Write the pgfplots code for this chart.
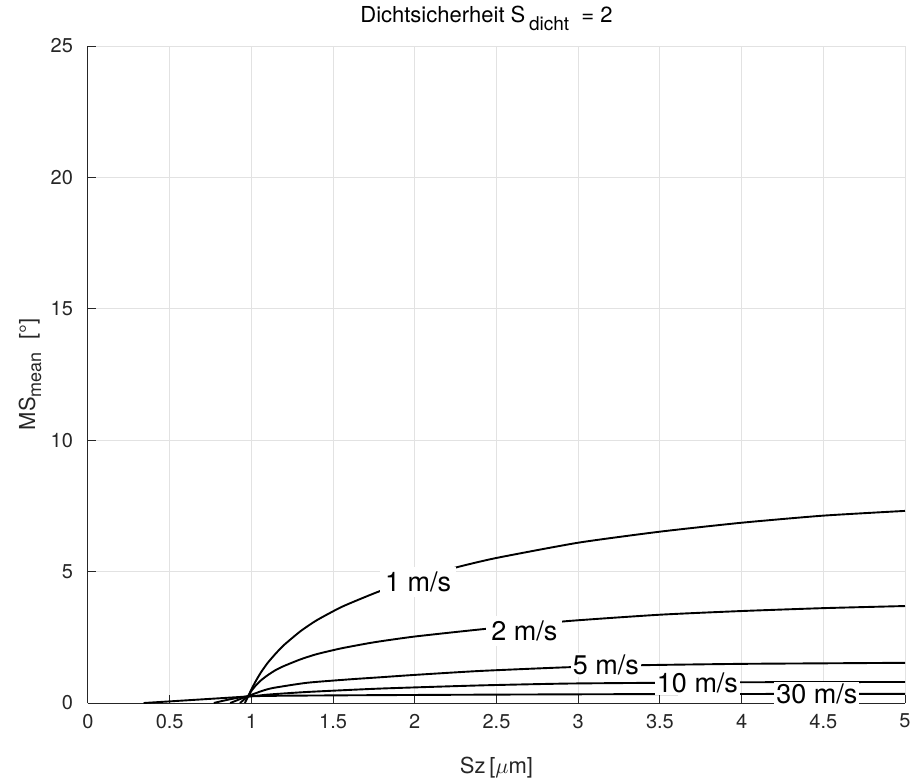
\documentclass[border=0pt]{standalone}
\usepackage{pgfplots}
\pgfplotsset{compat=1.18}
\usepackage{fontspec}
\setmainfont{TeX Gyre Heros}
\definecolor{axgray}{HTML}{262626}
\definecolor{gridgray}{HTML}{E2E2E2}
\begin{document}
\begin{tikzpicture}
\begin{axis}[
  at={(0,0)}, anchor=south west,
  width=408.5pt, height=328.5pt, scale only axis,
  xmin=0, xmax=5, ymin=0, ymax=25,
  axis x line*=bottom, axis y line*=left,
  axis line style={-, draw=axgray, line width=0.5pt},
  xtick={0,0.5,1,1.5,2,2.5,3,3.5,4,4.5,5},
  ytick={0,5,10,15,20,25},
  tick align=inside,
  major tick length=4pt,
  tick style={draw=axgray, line width=0.5pt},
  grid=major,
  grid style={draw=gridgray, line width=0.5pt},
  /pgf/number format/assume math mode=true,
  ticklabel style={font=\fontsize{10}{12}\selectfont, text=axgray},
  xticklabel style={yshift=-2pt},
  yticklabel style={xshift=-4pt},
  xlabel={Sz\,[$\mu$m]},
  ylabel={MS\raisebox{-3pt}{\fontsize{9}{10}\selectfont mean}\ \ [°]},
  every axis x label/.style={at={(axis description cs:0.5,-0.099)}, anchor=center, font=\fontsize{11}{13}\selectfont, text=axgray},
  every axis y label/.style={at={(axis description cs:-0.071,0.5)}, anchor=center, rotate=90, font=\fontsize{11}{13}\selectfont, text=axgray},
  title={Dichtsicherheit S\,\raisebox{-4pt}{\fontsize{9.5}{11}\selectfont dicht}\ \ =\ 2},
  every axis title/.style={at={(axis description cs:0.5,1.0426)}, anchor=center, xshift=-5pt, font=\fontsize{11}{13}\selectfont, text=black},
]
% 1 m/s
\addplot[black, line width=0.95pt, smooth, tension=0.35] coordinates {
 (0.96,0) (0.98,0.25) (1.0,0.52) (1.03,0.87) (1.06,1.18) (1.1,1.53) (1.15,1.89) (1.2,2.21) (1.3,2.73) (1.4,3.15) (1.55,3.65) (1.71,4.07) (1.85,4.41) (2.0,4.71) (2.26,5.17) (2.5,5.52) (3.0,6.1) (3.5,6.52) (4.0,6.86) (4.5,7.13) (5.0,7.31)};
% 2 m/s
\addplot[black, line width=0.95pt, smooth, tension=0.35] coordinates {
 (0.93,0) (0.98,0.27) (1.0,0.46) (1.03,0.69) (1.06,0.87) (1.1,1.06) (1.15,1.26) (1.2,1.41) (1.3,1.66) (1.4,1.86) (1.55,2.08) (1.75,2.31) (2.0,2.53) (2.4,2.8) (2.94,3.12) (3.5,3.36) (4.0,3.5) (4.5,3.61) (5.0,3.69)};
% 5 m/s
\addplot[black, line width=0.95pt, smooth, tension=0.35] coordinates {
 (0.87,0) (0.98,0.27) (1.03,0.38) (1.06,0.45) (1.13,0.57) (1.34,0.77) (1.6,0.9) (1.79,0.98) (2.0,1.07) (2.4,1.22) (2.93,1.36) (3.4,1.44) (4.0,1.49) (4.5,1.51) (5.0,1.53)};
% 10 m/s
\addplot[black, line width=0.95pt, smooth, tension=0.35] coordinates {
 (0.34,0) (0.98,0.25) (1.1,0.32) (1.34,0.42) (1.79,0.55) (2.4,0.67) (2.93,0.74) (3.5,0.77) (4.0,0.79) (5.0,0.80)};
% 30 m/s
\addplot[black, line width=0.95pt, smooth, tension=0.35] coordinates {
 (0.77,0) (0.98,0.25) (1.5,0.29) (2.5,0.32) (3.5,0.34) (5.0,0.35)};
% contour labels
\node[fill=white, inner sep=2.5pt, font=\fontsize{13.5}{15}\selectfont] at (axis cs:2.02,4.6) {1 m/s};
\node[fill=white, inner sep=2.5pt, font=\fontsize{13.5}{15}\selectfont] at (axis cs:2.67,2.75) {2 m/s};
\node[fill=white, inner sep=1pt, font=\fontsize{13.5}{15}\selectfont] at (axis cs:3.17,1.45) {5 m/s};
\node[fill=white, inner sep=1pt, font=\fontsize{13.5}{15}\selectfont] at (axis cs:3.73,0.78) {10 m/s};
\node[fill=white, inner sep=1pt, font=\fontsize{13.5}{15}\selectfont] at (axis cs:4.46,0.34) {30 m/s};
\end{axis}
\pgfresetboundingbox
\path (-44pt,-40pt) rectangle (412.5pt,351.5pt);
\end{tikzpicture}
\end{document}
